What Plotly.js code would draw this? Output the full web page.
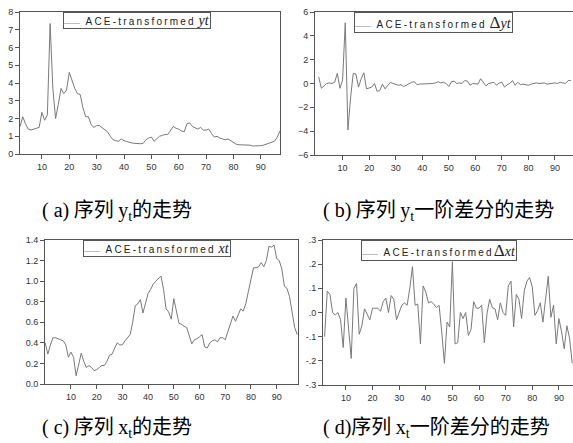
<!DOCTYPE html>
<html>
<head>
<meta charset="utf-8">
<script src="https://cdn.plot.ly/plotly-3.0.1.min.js"></script>
<style>html,body{margin:0;padding:0;background:#fff;}#chart{width:573px;height:443px;}</style>
</head>
<body>
<div id="chart"></div>
<script>
// ---- data ----
const startA = 2;
const seriesYt = [1.55,2.1,1.7,1.4,1.35,1.4,1.45,1.5,2.35,1.9,2.2,7.35,3.7,2.0,2.8,3.7,3.4,3.6,4.6,4.1,
  3.7,3.4,3.35,2.6,2.1,2.1,1.65,1.5,1.6,1.6,1.5,1.35,1.25,1.0,0.8,0.75,0.72,0.85,0.75,0.7,
  0.65,0.62,0.6,0.58,0.58,0.6,0.8,0.9,0.95,0.72,0.85,1.0,1.05,1.1,1.1,1.3,1.55,1.45,1.4,1.3,
  1.25,1.7,1.75,1.55,1.45,1.4,1.5,1.35,1.35,1.4,1.15,0.95,1.0,0.9,0.85,0.8,0.85,0.75,0.65,0.55,
  0.52,0.52,0.52,0.5,0.5,0.45,0.45,0.45,0.47,0.5,0.55,0.62,0.65,0.72,0.95,1.3];

const startB = 1;
const seriesDYt = [0.55,-0.4,-0.2,0.0,0.05,0.0,0.1,0.85,-0.4,0.3,5.1,-3.9,-1.2,0.85,0.8,-0.3,0.4,0.9,-0.45,-0.35,
  -0.3,0.0,-0.65,-0.6,-0.05,-0.45,-0.2,0.1,0.0,-0.1,-0.15,-0.1,-0.25,-0.15,0.0,0.1,0.15,-0.1,-0.05,-0.05,
  0.0,0.0,-0.05,0.0,0.05,0.15,0.05,0.1,0.0,-0.25,0.15,0.2,0.0,0.05,0.0,0.25,0.2,-0.15,0.0,-0.05,
  -0.05,0.4,0.1,-0.2,0.0,0.05,0.1,-0.15,0.05,0.1,-0.3,-0.1,0.0,0.25,-0.15,0.1,-0.1,-0.05,-0.1,-0.15,
  -0.05,0.0,0.05,0.0,0.0,0.05,-0.05,0.0,0.05,0.05,0.0,0.1,0.05,0.0,0.25,0.25];

const startC = 0;
const seriesXt = [0.40,0.29,0.38,0.45,0.45,0.44,0.43,0.42,0.38,0.26,0.31,0.26,0.08,0.20,0.30,0.22,0.16,0.18,0.16,0.13,
  0.14,0.16,0.18,0.18,0.22,0.28,0.29,0.35,0.40,0.38,0.38,0.42,0.45,0.48,0.60,0.76,0.78,0.82,0.69,0.80,
  0.88,0.92,0.97,1.00,1.03,1.05,0.92,0.73,0.70,0.63,0.83,0.70,0.59,0.58,0.56,0.55,0.48,0.39,0.43,0.44,
  0.46,0.48,0.36,0.35,0.40,0.42,0.43,0.41,0.45,0.45,0.43,0.50,0.58,0.66,0.61,0.68,0.73,0.71,0.78,0.90,
  1.02,1.13,1.13,1.14,1.18,1.14,1.20,1.34,1.33,1.35,1.22,1.20,1.12,0.95,0.93,0.85,0.70,0.55,0.48];

const startD = 2;
const seriesDXt = [-0.10,0.088,0.075,0.0,-0.01,0.0,-0.03,-0.145,0.06,-0.05,-0.19,0.10,0.12,-0.09,-0.055,0.015,-0.01,-0.03,0.018,0.018,
  0.018,0.005,0.045,0.06,0.0,0.07,0.055,-0.03,0.0,0.03,0.04,0.03,0.10,0.19,0.03,0.035,-0.13,0.11,0.085,0.04,
  0.045,0.035,0.02,0.03,-0.08,-0.21,-0.04,-0.06,0.21,-0.13,-0.125,0.0,-0.025,0.0,-0.095,-0.07,0.045,0.018,0.018,0.03,
  -0.125,-0.005,0.055,0.02,0.015,-0.03,0.04,0.0,-0.012,0.11,0.13,-0.06,0.075,0.055,-0.025,0.09,0.13,0.145,0.105,-0.012,
  0.008,0.04,-0.04,0.07,0.15,-0.02,0.03,-0.13,-0.025,-0.08,-0.15,-0.055,-0.105,-0.21];

const xTickVals = [10,20,30,40,50,60,70,80,90];
const yTicksA = [0,1,2,3,4,5,6,7,8];
const yTicksB = [-6,-4,-2,0,2,4,6];
const yTicksC = [0,0.2,0.4,0.6,0.8,1.0,1.2,1.4];
const yTicksD = [-0.3,-0.2,-0.1,0,0.1,0.2,0.3];
const yTickTextD = ['-.3','-.2','-.1','.0','.1','.2','.3'];

const legendA = 'ACE-transformed';
const captions = [
  '<span style="font-family:Liberation Serif">( a)</span> 序列 <span style="font-family:Liberation Serif">y<sub>t</sub></span>的走势',
  '<span style="font-family:Liberation Serif">( b)</span> 序列 <span style="font-family:Liberation Serif">y<sub>t</sub></span>一阶差分的走势',
  '<span style="font-family:Liberation Serif">( c)</span> 序列 <span style="font-family:Liberation Serif">x<sub>t</sub></span>的走势',
  '<span style="font-family:Liberation Serif">( d)</span>序列 <span style="font-family:Liberation Serif">x<sub>t</sub></span>一阶差分的走势'
];

// ---- helpers ----
const W = 573, H = 443;
const idx = (start, arr) => arr.map((_, i) => start + i);
const px = v => v / W;
const py = v => (H - v) / H;

const lineStyle = {color: '#7a7a7a', width: 1};
const traces = [
  {x: idx(startA, seriesYt), y: seriesYt, xaxis: 'x', yaxis: 'y', name: 'ACE-transformed yt'},
  {x: idx(startB, seriesDYt), y: seriesDYt, xaxis: 'x2', yaxis: 'y2', name: 'ACE-transformed Δyt'},
  {x: idx(startC, seriesXt), y: seriesXt, xaxis: 'x3', yaxis: 'y3', name: 'ACE-transformed xt'},
  {x: idx(startD, seriesDXt), y: seriesDXt, xaxis: 'x4', yaxis: 'y4', name: 'ACE-transformed Δxt'}
].map(t => Object.assign(t, {type: 'scatter', mode: 'lines', line: lineStyle, showlegend: false, hoverinfo: 'skip'}));

const tickFont = {family: 'Liberation Sans, Arial, sans-serif', size: 9, color: '#333'};
function xax(domain, range, anchor) {
  return {domain, range, anchor, tickvals: xTickVals, showline: true, mirror: true, linecolor: '#555', linewidth: 1,
    ticks: 'outside', ticklen: 4, tickcolor: '#555', showgrid: false, zeroline: false, tickfont: tickFont, fixedrange: true};
}
function yax(domain, range, anchor, vals, text) {
  const o = {domain, range, anchor, tickvals: vals, showline: true, mirror: true, linecolor: '#555', linewidth: 1,
    ticks: 'outside', ticklen: 4, tickcolor: '#555', showgrid: false, zeroline: false, tickfont: tickFont, fixedrange: true};
  if (text) o.ticktext = text; else if (vals === yTicksC) o.tickformat = '.1f';
  return o;
}

const serif = 'font-family:Liberation Serif;font-size:14px';
const delta = 'font-family:Liberation Serif;font-size:17px';
const sample = '<span style="color:#8a8a8a;font-size:8px">——</span>  ';
const ls = t => '<span style="letter-spacing:2.2px">' + t + '</span>';
const it = t => '<i><span style="' + serif + '">' + t + '</span></i>';
function legendAnn(left, top, suffix) {
  return {xref: 'paper', yref: 'paper', x: px(left), y: py(top), xanchor: 'left', yanchor: 'top',
    text: sample + ls(legendA) + suffix, showarrow: false, bgcolor: '#fff', bordercolor: '#555', borderwidth: 1, borderpad: 0,
    font: {family: 'Liberation Sans, Arial, sans-serif', size: 10, color: '#222'}};
}
function captionAnn(left, cy, text) {
  return {xref: 'paper', yref: 'paper', x: px(left), y: py(cy), xanchor: 'left', yanchor: 'middle', text, showarrow: false,
    font: {family: 'Noto Sans CJK SC, sans-serif', size: 20, color: '#000'}};
}

const layout = {
  width: W, height: H, margin: {l: 0, r: 0, t: 0, b: 0}, paper_bgcolor: '#fff', plot_bgcolor: '#fff', showlegend: false,
  xaxis: xax([px(20), px(280)], [2, 97], 'y'),
  yaxis: yax([py(154), py(12)], [0, 8], 'x', yTicksA),
  xaxis2: xax([px(315), px(573)], [-0.4, 96.8], 'y2'),
  yaxis2: yax([py(155), py(12)], [-6, 6], 'x2', yTicksB),
  xaxis3: xax([px(45), px(298)], [-0.1, 98.3], 'y3'),
  yaxis3: yax([py(384), py(240)], [0, 1.4], 'x3', yTicksC),
  xaxis4: xax([px(323), px(573)], [1.4, 95.3], 'y4'),
  yaxis4: yax([py(385), py(240)], [-0.3, 0.3], 'x4', yTicksD, yTickTextD),
  annotations: [
    legendAnn(63, 12, ' ' + it('yt')),
    legendAnn(354, 12, ' <span style="' + delta + '">Δ</span>' + it('yt')),
    legendAnn(83, 240, ' ' + it('xt')),
    legendAnn(361, 240, '<span style="' + delta + '">Δ</span>' + it('xt')),
    captionAnn(40, 209, captions[0]),
    captionAnn(321, 209, captions[1]),
    captionAnn(40, 426, captions[2]),
    captionAnn(321, 426, captions[3])
  ]
};

Plotly.newPlot('chart', traces, layout, {staticPlot: true, displayModeBar: false});
</script>
</body>
</html>
